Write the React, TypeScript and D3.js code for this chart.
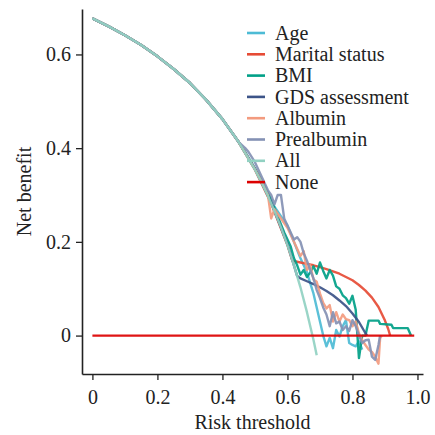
import React, { useEffect, useRef } from "react";
import * as d3 from "d3";

type P = [number, number];

// Shared early part of every curve (0 to 0.45)
const baseCurve: P[] = [
  [0, 0.677], [0.05, 0.66], [0.1, 0.641], [0.15, 0.62], [0.2, 0.596],
  [0.25, 0.569], [0.3, 0.539], [0.35, 0.503], [0.4, 0.462], [0.45, 0.413],
];

const allTail: P[] = [
  [0.5, 0.354], [0.52, 0.327], [0.54, 0.298], [0.56, 0.266], [0.58, 0.231],
  [0.6, 0.193], [0.62, 0.15], [0.64, 0.103], [0.66, 0.05], [0.68, -0.009], [0.69, -0.042],
];

const ageTail: P[] = [
  [0.47, 0.392], [0.5, 0.357], [0.52, 0.331], [0.54, 0.302], [0.56, 0.275],
  [0.58, 0.255], [0.6, 0.235], [0.62, 0.2], [0.64, 0.165], [0.66, 0.135],
  [0.67, 0.112], [0.68, 0.09], [0.69, 0.06], [0.7, 0.03], [0.71, 0.0],
  [0.72, -0.023], [0.73, -0.005], [0.74, -0.027], [0.75, 0.012], [0.76, -0.002],
  [0.77, 0.02], [0.78, 0.033], [0.79, -0.016], [0.8, -0.02], [0.81, -0.023],
  [0.82, -0.012], [0.83, -0.03],
];

const maritalTail: P[] = [
  [0.5, 0.354], [0.55, 0.282], [0.6, 0.193], [0.615, 0.16], [0.64, 0.156],
  [0.66, 0.153], [0.68, 0.15], [0.7, 0.146], [0.72, 0.142], [0.74, 0.137],
  [0.76, 0.132], [0.78, 0.125], [0.8, 0.118], [0.82, 0.108], [0.84, 0.096],
  [0.86, 0.081], [0.88, 0.061], [0.9, 0.032], [0.91, 0.014], [0.916, 0.0],
];

const bmiTail: P[] = [
  [0.5, 0.356], [0.53, 0.32], [0.55, 0.29], [0.57, 0.255], [0.59, 0.22],
  [0.6, 0.205], [0.61, 0.19], [0.62, 0.165], [0.63, 0.15], [0.64, 0.13],
  [0.65, 0.14], [0.66, 0.125], [0.67, 0.135], [0.68, 0.148], [0.69, 0.132],
  [0.7, 0.156], [0.71, 0.138], [0.72, 0.122], [0.73, 0.14], [0.74, 0.128],
  [0.75, 0.105], [0.76, 0.1], [0.77, 0.086], [0.78, 0.08], [0.79, 0.068],
  [0.8, 0.085], [0.81, 0.055], [0.82, -0.048], [0.83, 0.0], [0.84, 0.0],
  [0.85, 0.032], [0.88, 0.032], [0.885, 0.025], [0.92, 0.023], [0.925, 0.016],
  [0.97, 0.016], [0.98, 0.0],
];

const gdsTail: P[] = [
  [0.5, 0.356], [0.55, 0.284], [0.6, 0.195], [0.63, 0.127], [0.64, 0.122],
  [0.66, 0.116], [0.68, 0.11], [0.7, 0.103], [0.72, 0.095], [0.74, 0.086],
  [0.76, 0.075], [0.78, 0.063], [0.8, 0.047], [0.82, 0.029], [0.84, 0.005],
  [0.845, 0.0],
];

const albuminTail: P[] = [
  [0.5, 0.355], [0.52, 0.33], [0.54, 0.3], [0.55, 0.25], [0.56, 0.27],
  [0.58, 0.25], [0.6, 0.23], [0.62, 0.2], [0.64, 0.17], [0.65, 0.18],
  [0.66, 0.14], [0.67, 0.15], [0.68, 0.12], [0.69, 0.115], [0.7, 0.09],
  [0.71, 0.07], [0.72, 0.058], [0.73, 0.065], [0.74, 0.03], [0.75, 0.05],
  [0.76, 0.03], [0.77, 0.045], [0.78, 0.035], [0.79, 0.033], [0.8, 0.02],
  [0.81, 0.03], [0.82, 0.005], [0.83, -0.01], [0.84, -0.02], [0.85, -0.03],
  [0.86, -0.035], [0.87, -0.045], [0.88, -0.06], [0.885, -0.006], [0.89, 0.0],
];

const prealbuminTail: P[] = [
  [0.47, 0.4], [0.48, 0.392], [0.5, 0.37], [0.52, 0.34], [0.54, 0.31],
  [0.55, 0.3], [0.56, 0.28], [0.57, 0.3], [0.58, 0.3], [0.59, 0.25],
  [0.6, 0.235], [0.61, 0.22], [0.62, 0.205], [0.63, 0.21], [0.64, 0.2],
  [0.65, 0.176], [0.66, 0.16], [0.67, 0.14], [0.68, 0.122], [0.69, 0.097],
  [0.7, 0.08], [0.71, 0.06], [0.72, 0.045], [0.73, 0.02], [0.74, 0.05],
  [0.75, 0.026], [0.76, 0.03], [0.77, 0.012], [0.78, 0.02], [0.79, 0.01],
  [0.8, 0.033], [0.81, 0.02], [0.82, 0.0], [0.83, -0.016], [0.84, -0.01],
  [0.85, -0.009], [0.86, -0.045], [0.87, -0.052], [0.88, -0.02], [0.885, 0.0],
];

const noneCurve: P[] = [[0, 0], [0.99, 0]];

const seriesNames = ["Age", "Marital status", "BMI", "GDS assessment", "Albumin", "Prealbumin", "All", "None"];
const seriesColors = ["#4DBBD5", "#E64B35", "#00A087", "#3C5488", "#F39B7F", "#8491B4", "#91D1C2", "#DC0000"];
const seriesData: P[][] = [
  [...baseCurve, ...ageTail],
  [...baseCurve, ...maritalTail],
  [...baseCurve, ...bmiTail],
  [...baseCurve, ...gdsTail],
  [...baseCurve, ...albuminTail],
  [...baseCurve, ...prealbuminTail],
  [...baseCurve, ...allTail],
  noneCurve,
];

const xTicks = [0, 0.2, 0.4, 0.6, 0.8, 1.0];
const yTicks = [0, 0.2, 0.4, 0.6];
const xTitle = "Risk threshold";
const yTitle = "Net benefit";

const FONT = "Liberation Serif";

function fmt(d: number) {
  return d === 0 ? "0" : d.toFixed(1);
}

export default function App() {
  const xRef = useRef<SVGGElement>(null);
  const yRef = useRef<SVGGElement>(null);

  const x = d3.scaleLinear().domain([-0.032, 1.017]).range([82, 423]);
  const y = d3.scaleLinear().domain([-0.082, 0.697]).range([374, 9]);

  useEffect(() => {
    const gx = d3.select(xRef.current!);
    gx.call(
      d3.axisBottom(x).tickValues(xTicks).tickFormat((d) => fmt(d as number)).tickSizeOuter(0).tickSizeInner(6).tickPadding(10)
    );
    const gy = d3.select(yRef.current!);
    gy.call(
      d3.axisLeft(y).tickValues(yTicks).tickFormat((d) => fmt(d as number)).tickSizeOuter(0).tickSizeInner(6).tickPadding(5)
    );
    [gx, gy].forEach((g) => {
      g.attr("font-family", FONT).attr("font-size", 20);
      g.selectAll("text").attr("fill", "#222");
      g.selectAll("line").attr("stroke", "#222").attr("stroke-width", 1.3);
      g.select(".domain").attr("stroke", "#222").attr("stroke-width", 1.6);
    });
  }, []);

  const line = d3
    .line<P>()
    .x((d) => x(d[0]))
    .y((d) => y(d[1]));

  const legendX = 247;
  const legendY0 = 33;
  const legendStep = 21.3;

  return (
    <svg
      width={435}
      height={435}
      fontFamily={FONT}
      fontSize={20}
      style={{ position: "absolute", left: 0, top: 0, background: "#fff" }}
    >
      {seriesData.map((d, i) => (
        <path
          key={seriesNames[i]}
          d={line(d) || ""}
          fill="none"
          stroke={seriesColors[i]}
          strokeWidth={2.4}
          strokeOpacity={0.92}
          strokeLinejoin="round"
        />
      ))}
      <g ref={xRef} transform="translate(0,374)" />
      <g ref={yRef} transform="translate(82,0)" />
      <text x={252.5} y={429} textAnchor="middle" fill="#222">
        {xTitle}
      </text>
      <text transform="translate(31,191.5) rotate(-90)" textAnchor="middle" fill="#222">
        {yTitle}
      </text>
      {seriesNames.map((n, i) => (
        <g key={n} transform={`translate(${legendX},${legendY0 + i * legendStep})`}>
          <line x1={0} x2={18} y1={0} y2={0} stroke={seriesColors[i]} strokeWidth={2.6} />
          <text x={28} y={0} dy="0.33em" fill="#222">
            {n}
          </text>
        </g>
      ))}
    </svg>
  );
}
